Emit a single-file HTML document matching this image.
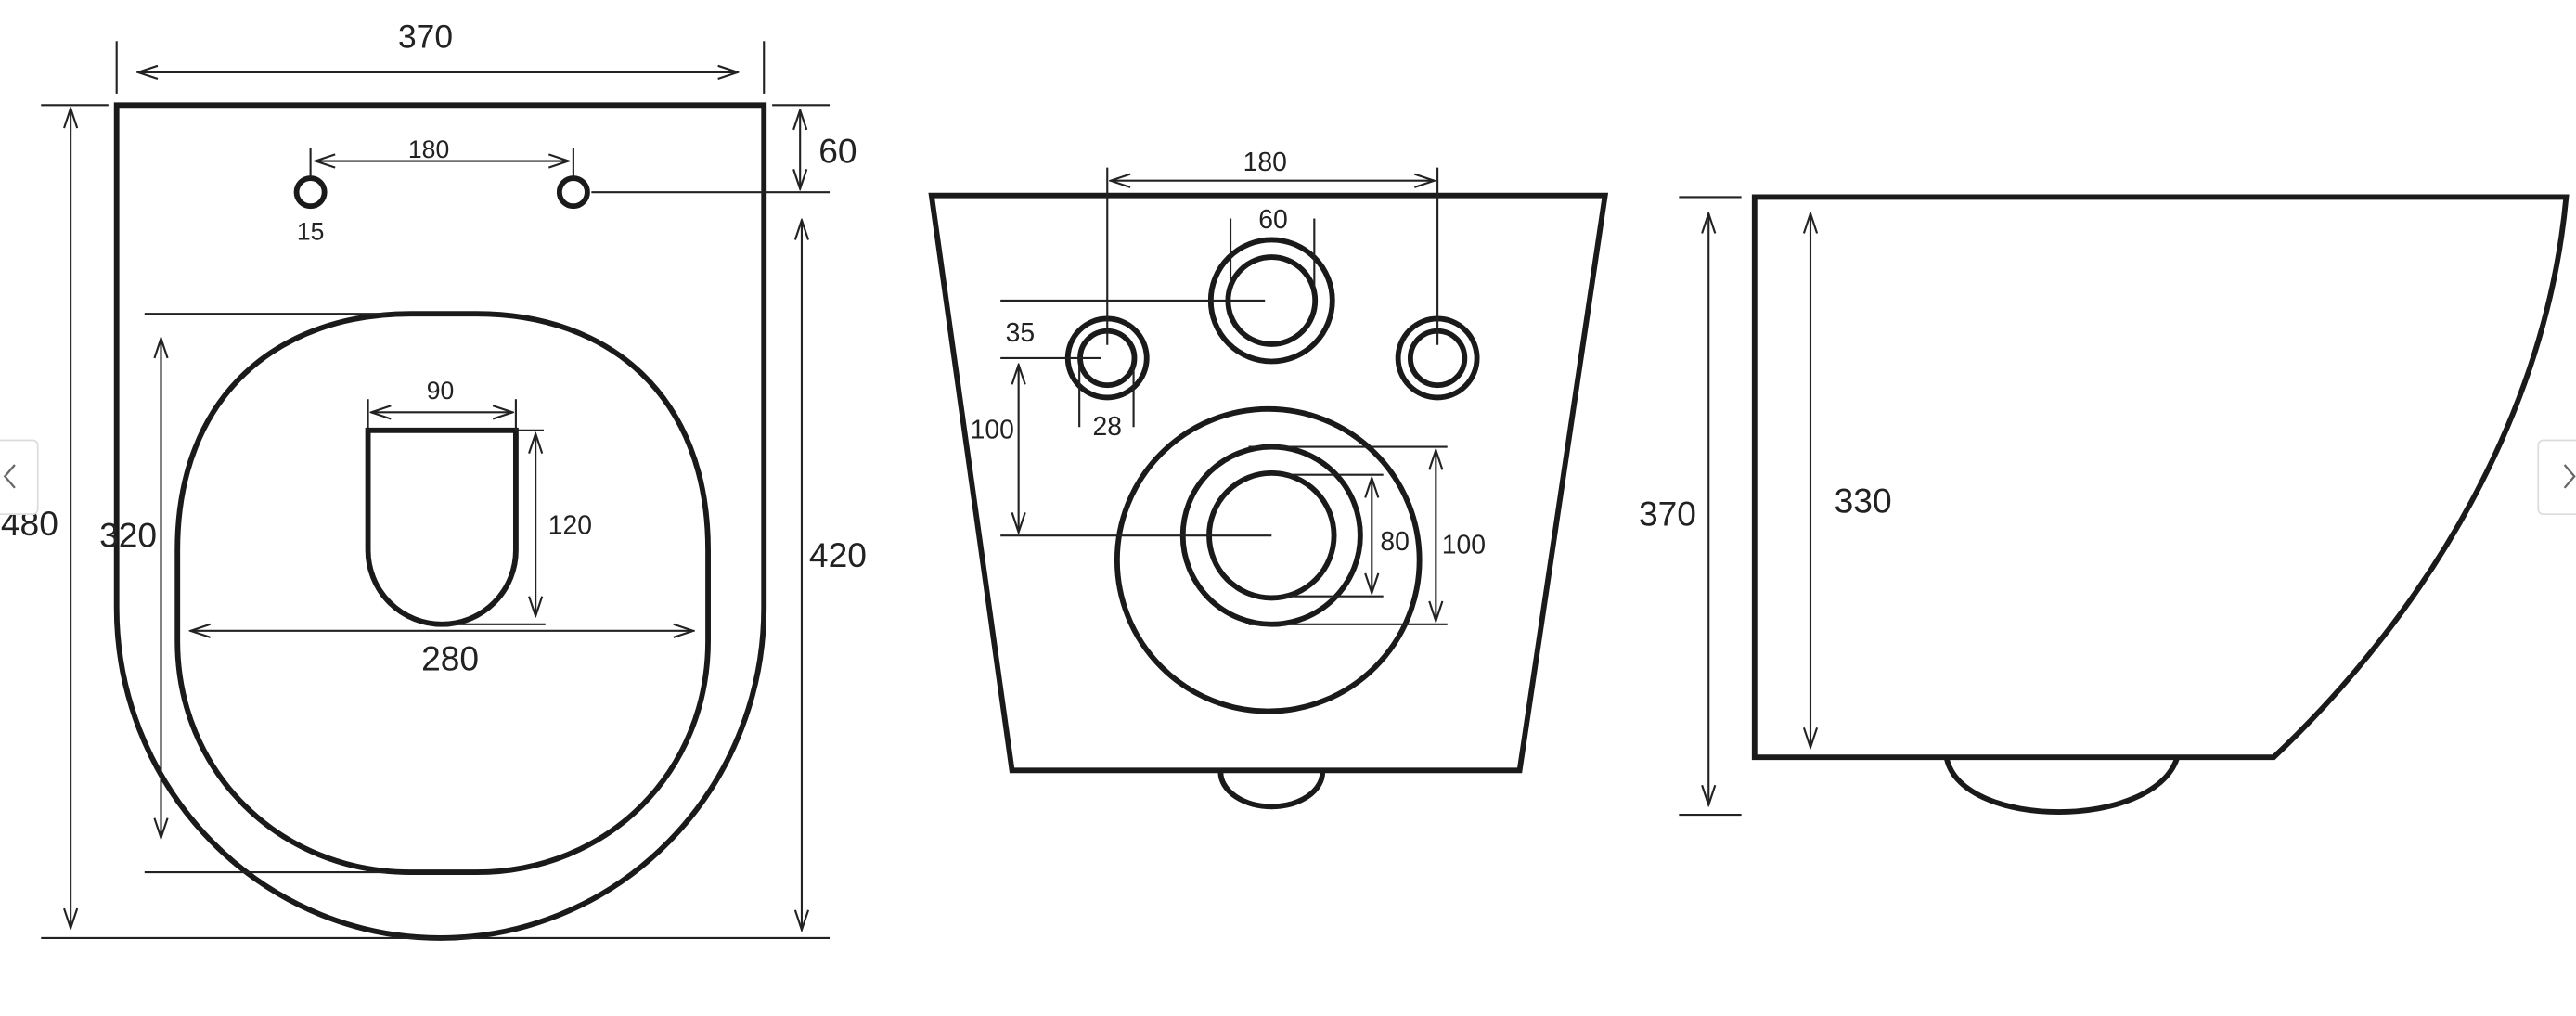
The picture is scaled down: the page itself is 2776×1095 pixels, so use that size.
<!DOCTYPE html>
<html><head><meta charset="utf-8"><style>
html,body{margin:0;padding:0;background:#fff;}
svg{display:block;}
text{font-family:"Liberation Sans",sans-serif;fill:#222;}
</style></head><body>
<svg width="2776" height="1095" viewBox="0 0 1568 618.5" preserveAspectRatio="none" xmlns="http://www.w3.org/2000/svg">
<defs>
<marker id="a" markerWidth="14" markerHeight="10" refX="13" refY="5" orient="auto-start-reverse" markerUnits="userSpaceOnUse">
<polyline points="1,1 13,5 1,9" fill="none" stroke="#222" stroke-width="1.2"/>
</marker>
</defs>
<rect width="1568" height="618.5" fill="#fff"/>
<g fill="none" stroke="#1a1a1a" stroke-width="3.3">
<path d="M71,370 L71,64 L465,64 L465,370 A197,201 0 0 1 71,370 Z"/>
<path d="M108,335 C108,240 170,191 250,191 L290,191 C370,191 431,240 431,335 L431,390 C431,470 370,531 290,531 L250,531 C170,531 108,470 108,390 Z"/>
<path d="M224,262 L314,262 L314,335 A45,45 0 0 1 224,335 Z"/>
<circle cx="189" cy="117" r="8.5"/>
<circle cx="349" cy="117" r="8.5"/>
<path d="M567,119 L977,119 L925,469 L616,469 Z"/>
<path d="M743,470 A31,21 0 0 0 805,470"/>
<circle cx="674" cy="218" r="24"/><circle cx="674" cy="218" r="16.5"/>
<circle cx="774" cy="183" r="37"/><circle cx="774" cy="183" r="26.5"/>
<circle cx="875" cy="218" r="24"/><circle cx="875" cy="218" r="16.5"/>
<circle cx="772" cy="341" r="92"/>
<circle cx="774" cy="326" r="54"/><circle cx="774" cy="326" r="38"/>
<path d="M1068,120 L1562,120 C1550,250 1480,370 1384,461 L1068,461 Z"/>
<path d="M1185,462 C1195,505 1310,505 1325,462"/>
</g>
<g fill="none" stroke="#222" stroke-width="1.2">
<line x1="71" y1="25" x2="71" y2="57"/><line x1="465" y1="25" x2="465" y2="57"/>
<line x1="84" y1="44" x2="449" y2="44" marker-start="url(#a)" marker-end="url(#a)"/>
<line x1="25" y1="64" x2="66" y2="64"/><line x1="25" y1="571" x2="505" y2="571"/>
<line x1="43" y1="66" x2="43" y2="565" marker-start="url(#a)" marker-end="url(#a)"/>
<line x1="470" y1="64" x2="505" y2="64"/>
<line x1="487" y1="67" x2="487" y2="115" marker-start="url(#a)" marker-end="url(#a)"/>
<line x1="360" y1="117" x2="505" y2="117"/>
<line x1="488" y1="134" x2="488" y2="566" marker-start="url(#a)" marker-end="url(#a)"/>
<line x1="189" y1="90" x2="189" y2="108"/><line x1="349" y1="90" x2="349" y2="108"/>
<line x1="192" y1="98" x2="346" y2="98" marker-start="url(#a)" marker-end="url(#a)"/>
<line x1="88" y1="191" x2="235" y2="191"/><line x1="88" y1="531" x2="235" y2="531"/>
<line x1="98" y1="206" x2="98" y2="510" marker-start="url(#a)" marker-end="url(#a)"/>
<line x1="224" y1="243" x2="224" y2="262"/><line x1="314" y1="243" x2="314" y2="262"/>
<line x1="226" y1="251" x2="312" y2="251" marker-start="url(#a)" marker-end="url(#a)"/>
<line x1="314" y1="262" x2="331" y2="262"/><line x1="270" y1="380" x2="332" y2="380"/>
<line x1="326" y1="264" x2="326" y2="375" marker-start="url(#a)" marker-end="url(#a)"/>
<line x1="116" y1="384" x2="422" y2="384" marker-start="url(#a)" marker-end="url(#a)"/>
<line x1="674" y1="102" x2="674" y2="210"/><line x1="875" y1="102" x2="875" y2="210"/>
<line x1="676" y1="110" x2="873" y2="110" marker-start="url(#a)" marker-end="url(#a)"/>
<line x1="749" y1="133" x2="749" y2="175"/><line x1="800" y1="133" x2="800" y2="175"/>
<line x1="609" y1="183" x2="770" y2="183"/>
<line x1="609" y1="218" x2="670" y2="218"/>
<line x1="657" y1="222" x2="657" y2="260"/><line x1="690" y1="222" x2="690" y2="260"/>
<line x1="620" y1="222" x2="620" y2="324" marker-start="url(#a)" marker-end="url(#a)"/>
<line x1="609" y1="326" x2="774" y2="326"/>
<line x1="780" y1="289" x2="842" y2="289"/><line x1="780" y1="363" x2="842" y2="363"/>
<line x1="835" y1="291" x2="835" y2="361" marker-start="url(#a)" marker-end="url(#a)"/>
<line x1="760" y1="272" x2="881" y2="272"/><line x1="760" y1="380" x2="881" y2="380"/>
<line x1="874" y1="274" x2="874" y2="378" marker-start="url(#a)" marker-end="url(#a)"/>
<line x1="1022" y1="120" x2="1060" y2="120"/><line x1="1022" y1="496" x2="1060" y2="496"/>
<line x1="1040" y1="130" x2="1040" y2="490" marker-start="url(#a)" marker-end="url(#a)"/>
<line x1="1102" y1="130" x2="1102" y2="455" marker-start="url(#a)" marker-end="url(#a)"/>
</g>
<g text-anchor="middle">
<text x="259" y="29" font-size="20">370</text>
<text x="18" y="326" font-size="21">480</text>
<text x="510" y="99" font-size="21">60</text>
<text x="510" y="345" font-size="21">420</text>
<text x="261" y="96" font-size="15">180</text>
<text x="189" y="146" font-size="15">15</text>
<text x="78" y="333" font-size="21">320</text>
<text x="268" y="243" font-size="15">90</text>
<text x="347" y="325" font-size="16">120</text>
<text x="274" y="408" font-size="21">280</text>
<text x="770" y="104" font-size="16">180</text>
<text x="775" y="139" font-size="16">60</text>
<text x="621" y="208" font-size="16">35</text>
<text x="674" y="265" font-size="16">28</text>
<text x="604" y="267" font-size="16">100</text>
<text x="849" y="335" font-size="16">80</text>
<text x="891" y="337" font-size="16">100</text>
<text x="1015" y="320" font-size="21">370</text>
<text x="1134" y="312" font-size="21">330</text>
</g>
<g fill="#fff" stroke="#ddd" stroke-width="1">
<rect x="-5" y="268" width="28" height="45" rx="3"/>
<rect x="1545" y="268" width="30" height="45" rx="3"/>
</g>
<g fill="none" stroke="#666" stroke-width="1.3">
<polyline points="9,283 3,290 9,297"/>
<polyline points="1561,283 1567,290 1561,297"/>
</g>
</svg>
</body></html>
